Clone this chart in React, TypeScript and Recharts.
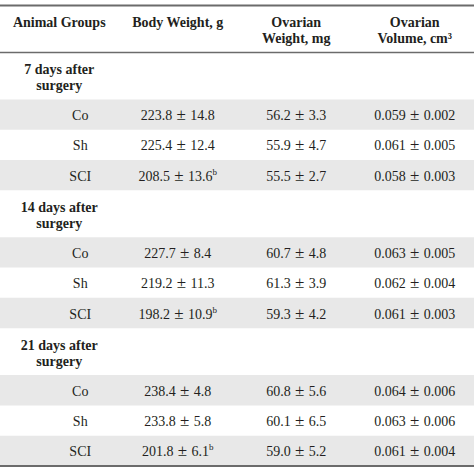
import React from 'react'
import {
  ScatterChart,
  Scatter,
  XAxis,
  YAxis,
  ReferenceArea,
  ReferenceLine,
} from 'recharts'

// table content
const columnHeaders = [
  ['Animal Groups'],
  ['Body Weight, g'],
  ['Ovarian', 'Weight, mg'],
  ['Ovarian', 'Volume, cm³'],
]
const surgeryGroups = [
  ['7 days after', 'surgery'],
  ['14 days after', 'surgery'],
  ['21 days after', 'surgery'],
]
const animalGroups = ['Co', 'Sh', 'SCI']

const bodyWeightMean = [223.8, 225.4, 208.5, 227.7, 219.2, 198.2, 238.4, 233.8, 201.8]
const bodyWeightSd = [14.8, 12.4, 13.6, 8.4, 11.3, 10.9, 4.8, 5.8, 6.1]
const bodyWeightNote = ['', '', 'b', '', '', 'b', '', '', 'b']
const ovarianWeightMean = [56.2, 55.9, 55.5, 60.7, 61.3, 59.3, 60.8, 60.1, 59.0]
const ovarianWeightSd = [3.3, 4.7, 2.7, 4.8, 3.9, 4.2, 5.6, 6.5, 5.2]
const ovarianVolumeMean = [0.059, 0.061, 0.058, 0.063, 0.062, 0.061, 0.064, 0.063, 0.061]
const ovarianVolumeSd = [0.002, 0.005, 0.003, 0.005, 0.004, 0.003, 0.006, 0.006, 0.004]

// row heights in table units
const HEADER_H = 1.55
const GROUP_H = 1.55
const ROW_H = 1

const FONT = "'Liberation Serif', 'Times New Roman', serif"
const INK = '#231f20'

interface Cell {
  x: number
  y: number
  kind: 'head' | 'group' | 'label' | 'value'
  lines: string[]
  sup?: string
}

const cells: Cell[] = []
const bands: { y1: number; y2: number }[] = []

columnHeaders.forEach((lines, i) => {
  cells.push({ x: i, y: HEADER_H / 2, kind: 'head', lines })
})

let top = HEADER_H
surgeryGroups.forEach((lines, g) => {
  cells.push({ x: 0, y: top + GROUP_H / 2, kind: 'group', lines })
  top += GROUP_H
  animalGroups.forEach((name, a) => {
    const k = g * animalGroups.length + a
    const mid = top + ROW_H / 2
    if (a % 2 === 0) bands.push({ y1: top, y2: top + ROW_H })
    cells.push({ x: 0, y: mid, kind: 'label', lines: [name] })
    cells.push({
      x: 1,
      y: mid,
      kind: 'value',
      lines: [bodyWeightMean[k].toFixed(1), bodyWeightSd[k].toFixed(1)],
      sup: bodyWeightNote[k],
    })
    cells.push({
      x: 2,
      y: mid,
      kind: 'value',
      lines: [ovarianWeightMean[k].toFixed(1), ovarianWeightSd[k].toFixed(1)],
    })
    cells.push({
      x: 3,
      y: mid,
      kind: 'value',
      lines: [ovarianVolumeMean[k].toFixed(3), ovarianVolumeSd[k].toFixed(3)],
    })
    top += ROW_H
  })
})
const TABLE_H = top

function CellText(props: any) {
  const { cx, cy } = props
  const cell: Cell = props.payload ?? props
  if (cx == null || cy == null) return null

  if (cell.kind === 'head' || cell.kind === 'group') {
    return (
      <text
        x={cx}
        y={cy}
        textAnchor="middle"
        fontFamily={FONT}
        fontSize={14}
        fontWeight="bold"
        fill={INK}
      >
        {cell.lines.map((line, i) => (
          <tspan key={i} x={cx} y={cy - 2 + i * 16}>
            {line}
          </tspan>
        ))}
      </text>
    )
  }

  if (cell.kind === 'label') {
    return (
      <text
        x={cx + 21}
        y={cy + 5.5}
        textAnchor="middle"
        fontFamily={FONT}
        fontSize={14}
        fill={INK}
      >
        {cell.lines[0]}
      </text>
    )
  }

  return (
    <text
      x={cx}
      y={cy + 5.5}
      textAnchor="middle"
      fontFamily={FONT}
      fontSize={14}
      fill={INK}
    >
      {cell.lines[0]}
      <tspan fontSize={17}>{' ± '}</tspan>
      {cell.lines[1]}
      {cell.sup ? (
        <tspan dy={-6} fontSize={9}>
          {cell.sup}
        </tspan>
      ) : null}
    </text>
  )
}

export default function App() {
  return (
    <div style={{ position: 'absolute', left: 0, top: 0, background: '#fff' }}>
      <ScatterChart
        width={474}
        height={474}
        margin={{ top: 5.5, right: 0, bottom: 8, left: 0 }}
      >
        <XAxis type="number" dataKey="x" domain={[-0.5, 3.5]} hide />
        <YAxis
          type="number"
          dataKey="y"
          domain={[0, TABLE_H]}
          reversed
          allowDataOverflow
          hide
        />
        {bands.map((b, i) => (
          <ReferenceArea
            key={i}
            y1={b.y1}
            y2={b.y2}
            fill="#e8e8e8"
            fillOpacity={1}
            stroke="none"
          />
        ))}
        <ReferenceLine y={0} stroke="#6b6b6b" strokeWidth={2} />
        <ReferenceLine y={HEADER_H} stroke="#6b6b6b" strokeWidth={1.5} />
        <ReferenceLine y={TABLE_H} stroke="#6b6b6b" strokeWidth={2} />
        <Scatter data={cells} shape={CellText} isAnimationActive={false} />
      </ScatterChart>
    </div>
  )
}
